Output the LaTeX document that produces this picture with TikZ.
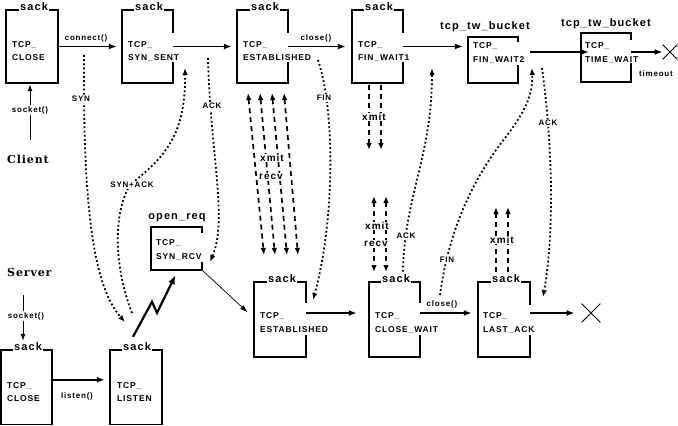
\documentclass[tikz,border=0pt]{standalone}
\usepackage{fontspec}
\setmainfont{Liberation Sans}
\newfontfamily\bmfont[LetterSpace=10]{Liberation Sans}
\newfontfamily\srfont[LetterSpace=8]{DejaVu Serif}
\usetikzlibrary{arrows.meta,shapes.misc}
\tikzset{
 boxline/.style={line width=1.2pt},
 boxtxt/.style={font=\bmfont\bfseries\fontsize{8.5}{10}\selectfont, anchor=base west, inner sep=0pt},
 sacklbl/.style={font=\bmfont\bfseries\fontsize{11}{12}\selectfont, anchor=base, fill=white, inner xsep=1.5pt, inner ysep=1.2pt},
 toplbl/.style={font=\bmfont\bfseries\fontsize{11}{12}\selectfont, anchor=base, inner sep=0pt},
 lbl/.style={font=\bmfont\bfseries\fontsize{8}{9}\selectfont, inner sep=1pt, fill=white},
 biglbl/.style={font=\bmfont\bfseries\fontsize{10}{11}\selectfont, inner sep=0.8pt, fill=white},
 side/.style={font=\srfont\bfseries\fontsize{11}{12}\selectfont, anchor=base west, inner sep=0pt},
 arr/.style={line width=1.6pt, -{Latex[length=8pt,width=6pt]}},
 thinarr/.style={line width=1pt, -{Latex[length=7pt,width=5pt]}},
 finearr/.style={line width=0.7pt, -{Latex[length=8pt,width=5pt]}},
 zigarr/.style={line width=2.2pt, -{Latex[length=9pt,width=7pt]}},
 dotarr/.style={line width=1.8pt, dash pattern=on 1.8pt off 2.4pt, -{Latex[length=7pt,width=5.5pt]}},
 dasharr/.style={line width=1.7pt, dash pattern=on 5pt off 4pt, {Latex[length=7pt,width=5.5pt]}-{Latex[length=7pt,width=5.5pt]}},
 dashone/.style={line width=1.7pt, dash pattern=on 5pt off 4pt, -{Latex[length=7pt,width=5.5pt]}},
 xmark/.style={cross out, draw, line width=0.8pt, inner sep=0pt},
}
% name, x1, y1, x2, y2, right-gap top, right-gap bottom
\newcommand\statebox[7]{%
  \node[inner sep=0pt, minimum width={#4-#2}, minimum height={#5-#3}] (#1) at ({(#2+#4)/2},{(#3+#5)/2}) {};
  \draw[boxline] (#4,#6) -- (#4,#3) -- (#2,#3) -- (#2,#5) -- (#4,#5) -- (#4,#7);
}
% x, baseline 1, baseline 2, second line
\newcommand\statetext[4]{%
  \node[boxtxt] at (#1,#2) {TCP\_};
  \node[boxtxt] at (#1,#3) {#4};
}
\begin{document}
\begin{tikzpicture}[x=1pt,y=-1pt]
\useasboundingbox (0,0) rectangle (678,426);

% ---------- dotted / dashed messages (drawn first, labels on top)
\coordinate (synA) at (84,55);
\coordinate (synB) at (125,322);
\draw[dotarr] (synA) .. controls (83,200) and (92,285) .. (synB);
\coordinate (saA) at (132,313);
\coordinate (saB) at (185,68);
\draw[dotarr] (saA) .. controls (115,270) and (112,215) .. (130,185) .. controls (160,160) and (186,140) .. (saB);
\coordinate (ak1A) at (208,58);
\coordinate (ak1B) at (210,262);
\draw[dotarr] (ak1A) .. controls (210,150) and (228,220) .. (ak1B);
\coordinate (fn1A) at (318,60);
\coordinate (fn1B) at (313,300);
\draw[dotarr] (fn1A) .. controls (335,110) and (335,220) .. (fn1B);
\coordinate (ak2A) at (403,280);
\coordinate (ak2B) at (432,68);
\draw[dotarr] (ak2A) .. controls (402,200) and (432,160) .. (ak2B);
\coordinate (fn2A) at (440,295);
\coordinate (fn2B) at (532,68);
\draw[dotarr] (fn2A) .. controls (450,220) and (480,170) .. (505,138) .. controls (525,112) and (533,95) .. (fn2B);
\coordinate (ak3A) at (542,68);
\coordinate (ak3B) at (543,297);
\draw[dotarr] (ak3A) .. controls (552,140) and (555,230) .. (ak3B);

\node[lbl] (lsyn) at (81,99) {SYN};
\node[lbl] (lsa) at (132,185) {SYN+ACK};
\node[lbl] (lak1) at (212,106) {ACK};
\node[lbl] (lfn1) at (324,98) {FIN};
\node[lbl] (lak2) at (406,236) {ACK};
\node[lbl] (lfn2) at (447,260) {FIN};
\node[lbl] (lak3) at (548,123) {ACK};

% data transfer between the ESTABLISHED states
\coordinate (d1a) at (248,93);  \coordinate (d1b) at (264,255);
\coordinate (d2a) at (260,93);  \coordinate (d2b) at (275,255);
\coordinate (d3a) at (272,93);  \coordinate (d3b) at (287,255);
\coordinate (d4a) at (284,93);  \coordinate (d4b) at (298,255);
\draw[dasharr] (d1a) -- (d1b);
\draw[dasharr] (d2a) -- (d2b);
\draw[dasharr] (d3a) -- (d3b);
\draw[dasharr] (d4a) -- (d4b);
\node[biglbl] (ex) at (272,158) {xmit};
\node[biglbl] (er) at (271,177) {recv};

% FIN_WAIT1 xmit
\coordinate (f1a) at (369,85);  \coordinate (f1b) at (369,150);
\coordinate (f2a) at (381,85);  \coordinate (f2b) at (381,150);
\draw[dashone] (f1a) -- (f1b);
\draw[dashone] (f2a) -- (f2b);
\node[biglbl] (fx) at (374,117) {xmit};

% CLOSE_WAIT xmit / recv
\coordinate (c1a) at (374,196);  \coordinate (c1b) at (374,272);
\coordinate (c2a) at (386,196);  \coordinate (c2b) at (386,272);
\draw[dasharr] (c1a) -- (c1b);
\draw[dasharr] (c2a) -- (c2b);
\node[biglbl] (cx) at (377,226) {xmit};
\node[biglbl] (cr) at (376,244) {recv};

% LAST_ACK xmit
\coordinate (l1a) at (496,272);  \coordinate (l1b) at (496,207);
\coordinate (l2a) at (508,272);  \coordinate (l2b) at (508,207);
\draw[dashone] (l1a) -- (l1b);
\draw[dashone] (l2a) -- (l2b);
\node[biglbl] (lx) at (502,240) {xmit};

% ---------- client boxes
\statebox{close1}{6}{10}{58}{83}{40}{40}
\node[sacklbl] at (34,10) {sack};
\statetext{12}{47}{60}{CLOSE}

\statebox{synsent}{122}{10}{173}{83}{33}{62}
\node[sacklbl] at (149,10) {sack};
\statetext{128}{47}{60}{SYN\_SENT}

\statebox{est1}{237}{10}{288}{83}{33}{62}
\node[sacklbl] at (265,10) {sack};
\statetext{243}{47}{60}{ESTABLISHED}

\statebox{fw1}{352}{10}{403}{83}{33}{62}
\node[sacklbl] at (379,10) {sack};
\statetext{358}{47}{60}{FIN\_WAIT1}

\statebox{fw2}{468}{37}{518}{83}{42}{65}
\node[toplbl] at (485,29) {tcp\_tw\_bucket};
\statetext{473}{48}{62}{FIN\_WAIT2}

\statebox{tw}{581}{33}{631}{82}{40}{63}
\node[toplbl] at (606,26) {tcp\_tw\_bucket};
\statetext{585}{48}{62}{TIME\_WAIT}

% ---------- server boxes
\statebox{synrcv}{151}{227}{202}{270}{233}{262}
\node[toplbl] at (177,219) {open\_req};
\statetext{156}{245}{259}{SYN\_RCV}

\statebox{est2}{254}{282}{306}{357}{303}{335}
\node[sacklbl] at (282,282) {sack};
\statetext{260}{318}{332}{ESTABLISHED}

\statebox{cw}{369}{282}{420}{357}{303}{335}
\node[sacklbl] at (396,282) {sack};
\statetext{375}{318}{332}{CLOSE\_WAIT}

\statebox{la}{478}{282}{530}{357}{305}{335}
\node[sacklbl] at (506,282) {sack};
\statetext{483}{318}{332}{LAST\_ACK}

\statebox{close2}{1}{350}{52}{424.5}{380}{380}
\node[sacklbl] at (28,350) {sack};
\statetext{7}{388}{401}{CLOSE}

\statebox{listen}{110}{350}{162}{424.5}{380}{380}
\node[sacklbl] at (137,350) {sack};
\statetext{117}{388}{401}{LISTEN}

% ---------- end marks
\node[xmark, minimum size=14pt] (end1) at (670,52) {};
\node[xmark, minimum size=18pt] (end2) at (591,313) {};

% ---------- solid transitions
\draw[arr, shorten >=5pt] (close1.east) -- (synsent.west);
\node[lbl, anchor=base] (lconn) at (86,40) {connect()};
\draw[arr, shorten >=5pt] (synsent.east) -- (est1.west);
\draw[arr, shorten >=6pt] (est1.east) -- (fw1.west);
\node[lbl, anchor=base] (lclose1) at (316,40) {close()};
\draw[arr, shorten >=5pt] (fw1.east) -- (fw1.east -| fw2.west);
\draw[arr, shorten >=4pt] ([shift={(12,-8)}]fw2.east) -- ([shift={(12,-8)}]fw2.east -| tw.west);
\draw[arr] (tw.east |- end1) -- (end1.west);
\node[lbl, anchor=base, fill=none] (ltime) at (656,76) {timeout};

\draw[arr, shorten >=12pt] ([shift={(0,-6.5)}]est2.east) -- ([shift={(0,-6.5)}]cw.west);
\draw[arr, shorten >=6pt] ([shift={(0,-6.5)}]cw.east) -- ([shift={(0,-6.5)}]la.west);
\node[lbl, anchor=base] (lclose2) at (442,306) {close()};
\draw[arr, shorten >=7pt] (la.east |- end2) -- (end2.west);

\draw[arr, shorten >=5pt] ([shift={(0,-7.5)}]close2.east) -- ([shift={(0,-7.5)}]listen.west);
\node[lbl, anchor=base] (llisten) at (77,398) {listen()};

\coordinate (sk1) at (30,140);
\draw[thinarr, shorten >=1pt] (sk1) -- (sk1 |- close1.south);
\node[lbl] (lsock1) at (30,110) {socket()};
\coordinate (sk2) at (23,295);
\draw[thinarr, shorten >=9pt] (sk2) -- (sk2 |- close2.north);
\node[lbl] (lsock2) at (26,316) {socket()};

\draw[zigarr] ([shift={(-3,-13)}]listen.north) -- ++(19,-35) -- ++(5,11) -- ([shift={(-1,5)}]synrcv.south);
\draw[finearr] (synrcv.south east) -- ([shift={(-6,-7)}]est2.west);

% ---------- side labels
\node[side] (client) at (7,163) {Client};
\node[side] (server) at (7,276) {Server};
\end{tikzpicture}
\end{document}
